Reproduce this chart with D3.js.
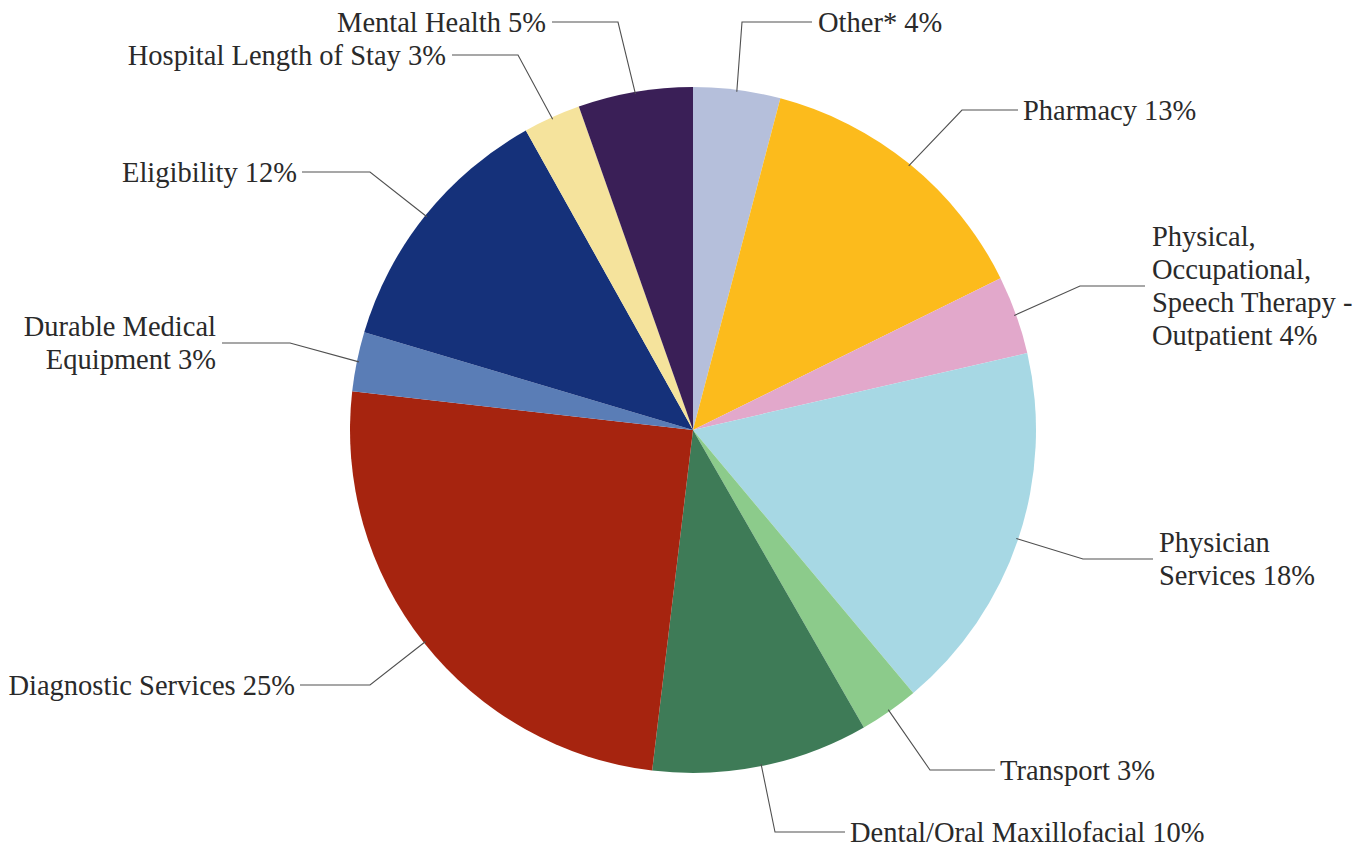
<!DOCTYPE html>
<html>
<head>
<meta charset="utf-8">
<script src="https://cdn.jsdelivr.net/npm/d3@7"></script>
<style>
  html, body { margin: 0; padding: 0; background: #ffffff; }
  svg { display: block; }
</style>
</head>
<body>
<svg id="chart" width="1361" height="849"></svg>
<script>
// ---- data ----
const categories = [
  "Other*", "Pharmacy", "Physical, Occupational, Speech Therapy - Outpatient",
  "Physician Services", "Transport", "Dental/Oral Maxillofacial",
  "Diagnostic Services", "Durable Medical Equipment", "Eligibility",
  "Hospital Length of Stay", "Mental Health"
];
// slice sizes (percent)
const values = [4.1, 13.6, 3.7, 17.5, 2.8, 10.2, 24.9, 2.8, 12.3, 2.7, 5.4];
// percent shown in the labels
const labelPercents = ["4%", "13%", "4%", "18%", "3%", "10%", "25%", "3%", "12%", "3%", "5%"];
// label text lines
const labelLines = [
  ["Other* 4%"],
  ["Pharmacy 13%"],
  ["Physical,", "Occupational,", "Speech Therapy -", "Outpatient 4%"],
  ["Physician", "Services 18%"],
  ["Transport 3%"],
  ["Dental/Oral Maxillofacial 10%"],
  ["Diagnostic Services 25%"],
  ["Durable Medical", "Equipment 3%"],
  ["Eligibility 12%"],
  ["Hospital Length of Stay 3%"],
  ["Mental Health 5%"]
];
const colors = [
  "#b5bfdb", "#fcbb1c", "#e2a8cb", "#a7d8e4", "#8ccb8b", "#3e7b57",
  "#a6240f", "#5a7db6", "#15317a", "#f5e39c", "#3a1f57"
];

// ---- layout (label elbows, text positions) ----
// [elbowX, elbowY, lineEndX, textX, anchor]
const labelLayout = [
  [742, 22, 812, 818, "start"],
  [962, 110, 1018, 1023, "start"],
  [1080, 286, 1145, 1152, "start"],
  [1083, 559, 1153, 1159, "start"],
  [930, 770, 995, 1000, "start"],
  [775, 832, 845, 850, "start"],
  [370, 685, 300, 295, "end"],
  [290, 343, 222, 216, "end"],
  [370, 172, 302, 297, "end"],
  [518, 55, 452, 446, "end"],
  [618, 22, 552, 546, "end"]
];

const cx = 693, cy = 430, R = 343;
const fontSize = 28.5, lineH = 33;
const FONT = "Liberation Serif";

const svg = d3.select("#chart");
const data = categories.map((c, i) => ({ name: c, value: values[i], color: colors[i], i }));

const pie = d3.pie().sort(null).value(d => d.value);
const arcs = pie(data);
const arc = d3.arc().innerRadius(0).outerRadius(R);

const g = svg.append("g").attr("transform", `translate(${cx},${cy})`);
g.selectAll("path.slice")
  .data(arcs)
  .enter().append("path")
  .attr("class", "slice")
  .attr("d", arc)
  .attr("fill", d => d.data.color);

// leader lines
const edgeArc = d3.arc().innerRadius(R - 2).outerRadius(R - 2);
const lines = svg.append("g");
arcs.forEach((a, i) => {
  const c = edgeArc.centroid(a);
  const sx = cx + c[0], sy = cy + c[1];
  const L = labelLayout[i];
  const pts = [[sx, sy], [L[0], L[1]], [L[2], L[1]]];
  lines.append("path")
    .attr("d", d3.line()(pts))
    .attr("fill", "none")
    .attr("stroke", "#505050")
    .attr("stroke-width", 1.1);
});

// labels
const labels = svg.append("g");
labelLines.forEach((ls, i) => {
  const L = labelLayout[i];
  const n = ls.length;
  const t = labels.append("text")
    .attr("x", L[3])
    .attr("text-anchor", L[4])
    .attr("font-family", FONT)
    .attr("fill", "#2a2a2a")
    .attr("font-size", fontSize);
  ls.forEach((s, k) => {
    t.append("tspan")
      .attr("x", L[3])
      .attr("y", L[1] + (k - (n - 1) / 2) * lineH)
      .attr("dy", "0.35em")
      .text(s);
  });
});
</script>
</body>
</html>
